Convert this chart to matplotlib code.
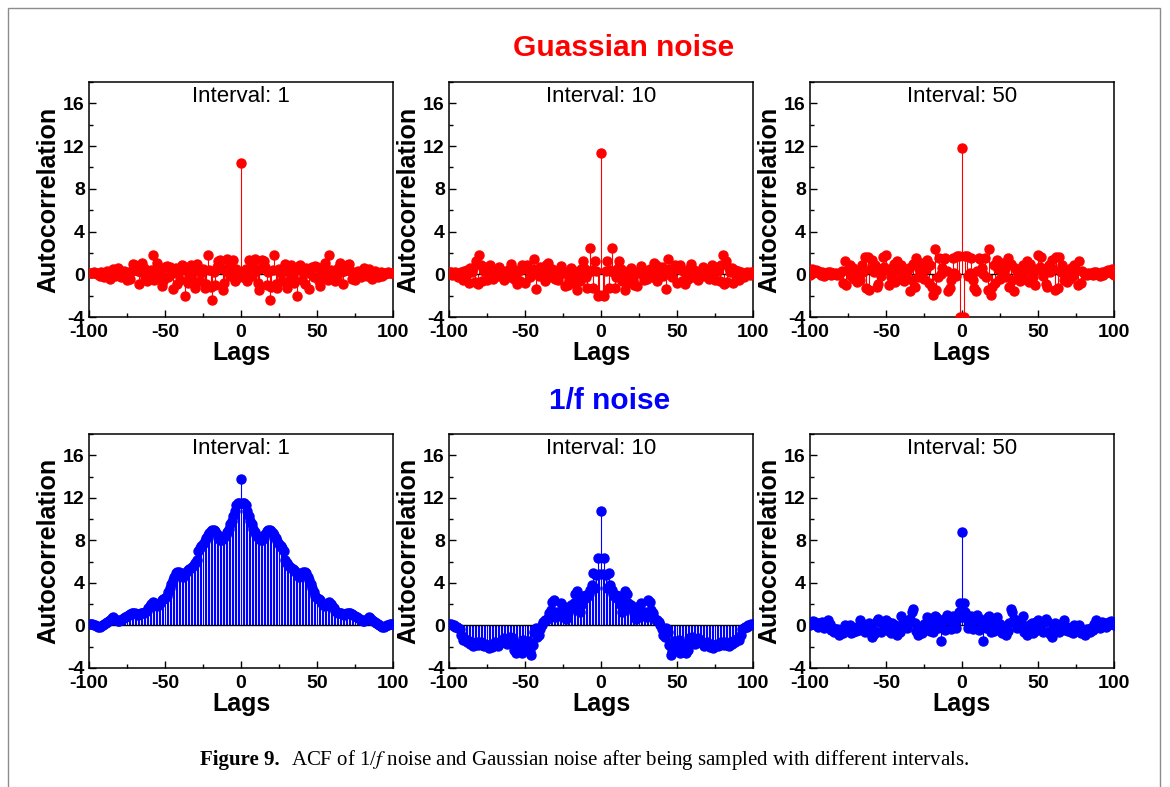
import numpy as np
import matplotlib
matplotlib.use("Agg")
import matplotlib.pyplot as plt
from matplotlib.ticker import MultipleLocator
from matplotlib.patches import Rectangle

plt.rcParams["font.family"] = ["Liberation Sans", "DejaVu Sans"]
plt.rcParams["mathtext.fontset"] = "stix"
plt.rcParams["axes.unicode_minus"] = False

# ── Данные: ACF для лагов 0..100 (ACF симметрична, отрицательные лаги — зеркало) ──
gauss_int1 = [
    10.4, -0.3, 0.2, 0.5, -0.6, 1.3, 0.4, -0.2, 1.1, 1.4,
    0.3, -0.8, -1.5, 0.6, 1.3, 1.2, 0.7, -1.0, 0.2, -2.4,
    -1.2, 0.4, 1.8, -0.9, -1.3, 0.5, 0.1, -0.6, 0.3, 1.0,
    -1.3, 0.6, -0.4, 0.9, -0.2, -0.8, 0.4, -2.0, 0.8, 0.9,
    -0.5, 0.2, -0.9, 0.6, 0.1, -1.4, 0.3, 0.7, -0.3, 0.8,
    0.7, -0.6, -1.1, 0.2, -0.2, 1.1, 0.5, -0.5, 1.8, 0.4,
    -0.1, 0.3, -0.6, -0.4, 0.6, 1.1, 0.2, -0.9, 0.3, 0.5,
    0.9, 1.0, 0.3, -0.4, 0.2, -0.5, 0.1, 0.3, 0.0, -0.3,
    0.2, 0.55, 0.1, -0.2, 0.5, 0.0, -0.4, 0.2, 0.3, -0.1,
    -0.3, 0.1, 0.2, -0.2, 0.1, 0.0, 0.15, 0.2, 0.1, 0.1,
    0.15,
]
gauss_int10 = [
    11.4, -1.9, -2.0, 0.3, 1.2, -1.3, 0.4, 2.5, 0.2, -1.3,
    -0.3, 0.6, 1.2, 0.5, -0.6, 0.1, -1.5, -0.8, 0.3, -0.2,
    0.55, -0.5, -1.0, 0.2, -1.1, 0.1, 0.8, 0.0, -0.5, 0.3,
    -0.4, 0.2, 0.5, 0.0, -0.3, 1.1, 0.9, -0.6, 0.4, 0.2,
    0.7, -0.2, 0.3, -1.4, 1.4, 0.5, 0.1, -0.3, 0.6, 0.9,
    -0.85, 0.5, 0.9, -0.6, 0.3, -0.9, 0.2, -0.4, 0.5, 0.95,
    -0.3, 0.4, 0.0, 0.25, -0.5, 0.3, 0.1, 0.7, -0.2, 0.4,
    0.2, -0.4, 0.5, 0.9, -0.3, -0.5, 0.7, 0.3, -0.6, 0.9,
    1.8, -0.9, 1.2, -0.7, 0.6, 0.2, 0.55, -0.8, 0.4, -0.2,
    0.3, -0.5, 0.2, 0.0, -0.3, 0.1, 0.2, 0.1, -0.1, 0.2,
    0.2,
]
gauss_int50 = [
    11.8, -4.0, 1.7, 1.7, -0.2, 0.1, 1.5, -0.5, -1.3, -1.6,
    0.3, 1.5, 1.4, 0.6, 0.0, 1.5, -0.3, -1.5, 2.35, -1.9,
    -1.2, 0.9, -0.85, 1.3, 0.5, -0.4, 0.3, 1.1, 0.5, -0.3,
    1.5, -1.15, 1.0, -0.5, -1.6, 0.6, 0.3, 0.1, -0.6, 0.5,
    0.9, -0.4, 0.3, 1.2, -0.7, 1.0, 0.6, -0.3, -1.0, 0.4,
    1.8, 0.7, 1.65, -0.2, 0.5, -0.9, -1.15, 0.9, 0.25, 1.3,
    0.5, -1.5, 1.65, -1.3, 1.65, 0.2, 0.9, -0.5, 0.4, -0.7,
    0.3, -0.4, 0.55, -0.2, 0.9, 0.4, -1.0, 1.2, -0.8, 0.3,
    0.1, 0.0, -0.1, 0.1, 0.0, 0.1, -0.1, 0.2, 0.25, 0.0,
    0.1, -0.2, 0.2, -0.1, 0.1, 0.3, 0.4, 0.2, 0.1, 0.5,
    -0.05,
]
pink_int1 = [
    13.8, 11.5, 11.5, 11.3, 10.8, 10.3, 9.8, 9.5, 9.1, 8.8,
    8.5, 8.3, 8.1, 8.0, 8.0, 8.2, 8.6, 8.9, 9.0, 9.0,
    8.9, 8.7, 8.5, 8.2, 7.9, 7.7, 7.5, 7.3, 7.0, 6.2,
    5.9, 5.7, 5.5, 5.4, 5.3, 5.2, 5.0, 4.8, 4.6, 4.7,
    4.9, 5.0, 5.0, 4.9, 4.6, 4.3, 3.9, 3.5, 3.1, 2.8,
    2.6, 2.5, 2.4, 2.1, 1.9, 1.8, 1.9, 2.1, 2.2, 2.0,
    1.8, 1.6, 1.4, 1.3, 1.2, 1.2, 1.2, 1.1, 1.0, 1.1,
    1.2, 1.2, 1.2, 1.1, 1.0, 0.9, 0.8, 0.7, 0.6, 0.5,
    0.4, 0.4, 0.5, 0.6, 0.8, 0.7, 0.5, 0.4, 0.3, 0.2,
    0.1, 0.0, -0.05, -0.1, -0.1, -0.05, 0.0, 0.05, 0.1, 0.1,
    0.1,
]
pink_int10 = [
    10.75, 4.8, 6.3, 4.7, 3.5, 4.9, 3.8, 3.3, 3.0, 2.7,
    2.9, 2.5, 2.8, 1.9, 1.3, 2.6, 3.2, 3.0, 2.1, 1.6,
    1.9, 1.6, 1.2, 0.65, 1.5, 1.8, 2.1, 0.9, 1.1, 1.3,
    0.8, 2.4, 2.2, 1.45, 1.2, 0.7, 0.5, 0.5, 0.35, 0.0,
    -0.3, -0.9, -1.05, -0.2, -0.6, -1.85, -2.8, -2.4, -1.5, -1.8,
    -2.0, -1.4, -2.6, -2.2, -1.7, -1.9, -2.6, -2.3, -1.2, -1.5,
    -1.05, -1.3, -1.7, -1.4, -1.2, -1.5, -1.6, -1.7, -1.9, -1.8,
    -1.6, -1.9, -2.0, -1.8, -2.15, -1.85, -1.7, -1.9, -1.8, -1.6,
    -1.75, -1.85, -1.6, -1.8, -1.9, -1.75, -1.7, -1.5, -1.6, -1.4,
    -1.2, -1.4, -0.9, -0.3, -0.2, -0.1, -0.1, 0.0, 0.05, 0.1,
    0.1,
]
pink_int50 = [
    8.8, 2.1, 1.3, 0.65, -0.2, 0.4, 0.9, -0.3, 0.5, 0.8,
    1.0, -0.4, 0.6, 0.2, -1.5, 0.5, -0.2, 0.8, 0.9, -0.6,
    0.3, -0.5, 0.4, 0.8, -0.3, 0.1, -0.75, -0.4, -0.6, -0.9,
    -0.5, 0.2, 1.5, 1.3, 0.6, 0.5, -0.2, -0.1, 0.3, 0.2,
    0.9, -0.6, -0.3, -0.9, 0.0, -0.3, 0.2, -0.7, -0.5, 0.3,
    0.5, -0.2, 0.1, -0.6, 0.3, 0.65, 0.4, -0.5, -0.8, -1.05,
    -0.4, 0.2, -0.3, 0.0, -0.6, 0.1, -0.2, 0.5, -0.4, -0.1,
    -0.5, -0.3, -0.6, -0.75, 0.0, -0.4, -0.3, 0.0, -0.7, -0.5,
    -0.4, -0.9, -0.3, -0.5, -0.6, -0.2, -0.4, 0.1, 0.5, 0.3,
    0.0, -0.2, 0.3, 0.2, 0.2, -0.1, 0.0, 0.3, 0.4, 0.1,
    0.0,
]

intervals = [1, 10, 50]
lags = np.arange(-100, 101)

RED = "#ff0000"
BLUE = "#0000ff"
W, H = 1170, 787


def full(half):
    half = np.asarray(half, dtype=float)
    return np.concatenate([half[:0:-1], half])


def panel(fig, rect, vals, color, interval):
    ax = fig.add_axes(rect)
    ml, sl, bl = ax.stem(lags, full(vals), basefmt="k-")
    plt.setp(ml, color=color, markersize=6.5, zorder=3)
    plt.setp(sl, color=color, linewidth=0.8)
    plt.setp(bl, color="black", linewidth=1.0, zorder=2.5)

    ax.set_xlim(-100, 100); ax.set_ylim(-4, 18)
    ax.set_xticks([-100, -50, 0, 50, 100])
    ax.set_yticks(range(-4, 17, 4))
    ax.xaxis.set_minor_locator(MultipleLocator(25))
    ax.yaxis.set_minor_locator(MultipleLocator(2))
    ax.tick_params(which="both", direction="in", top=False, right=False,
                   labelsize=14, width=1)
    ax.tick_params(which="major", length=5, pad=3)
    ax.tick_params(which="minor", length=3)
    ax.tick_params(axis="x", which="major", pad=5)
    for lab in ax.get_xticklabels() + ax.get_yticklabels():
        lab.set_fontweight("bold")
    for s in ax.spines.values():
        s.set_linewidth(1.1)
    ax.set_xlabel("Lags", fontsize=18, fontweight="bold", labelpad=0)
    ax.set_ylabel("Autocorrelation", fontsize=18, fontweight="bold", labelpad=2)
    ax.text(0.5, 0.94, f"Interval: {interval}", transform=ax.transAxes,
            ha="center", va="center", fontsize=16)
    return ax


fig = plt.figure(figsize=(W / 100, H / 100), dpi=100)

col_left = [89, 449, 810]
ax_w = 304
row_top = {0: (82, 317), 1: (434, 668)}

rows = [(gauss_int1, gauss_int10, gauss_int50), (pink_int1, pink_int10, pink_int50)]
colors = [RED, BLUE]
for r, series in enumerate(rows):
    top, bottom = row_top[r]
    for c, vals in enumerate(series):
        rect = [col_left[c] / W, 1 - bottom / H, ax_w / W, (bottom - top) / H]
        panel(fig, rect, vals, colors[r], intervals[c])

fig.text(624 / W, 1 - 48 / H, "Guassian noise", color=RED, fontsize=21.5,
         fontweight="bold", ha="center", va="center")
fig.text(610 / W, 1 - 401 / H, "1/f noise", color=BLUE, fontsize=21.5,
         fontweight="bold", ha="center", va="center")

# подпись к рисунку
fig.text(200 / W, 1 - 760 / H, "Figure 9.", family="Liberation Serif",
         fontweight="bold", fontsize=15, ha="left", va="center")
fig.text(291 / W, 1 - 760 / H,
         r"ACF of 1/$f$ noise and Gaussian noise after being sampled with different intervals.",
         family="Liberation Serif", fontsize=15, ha="left", va="center")

# серая рамка страницы
fig.add_artist(Rectangle((8 / W, -0.02), (1160 - 8) / W, 1 - 8 / H + 0.02,
                         transform=fig.transFigure, fill=False,
                         edgecolor="#8c8c8c", linewidth=1.0))

fig.savefig("out.png", dpi=100)
